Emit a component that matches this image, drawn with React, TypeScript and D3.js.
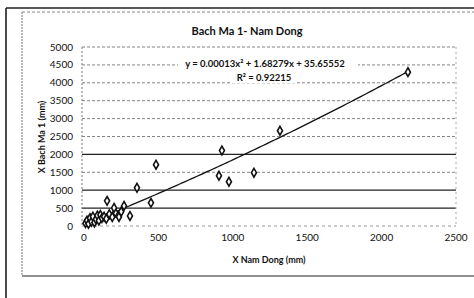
import React, { useRef, useEffect } from 'react';
import * as d3 from 'd3';

// Scatter data (mm)
const namDong = [
  10, 20, 30, 40, 50, 60, 70, 80, 90, 100, 110, 120, 135, 150, 170, 190, 210, 235, 250,
  155, 202, 269, 309, 356, 450, 484, 907, 927, 974, 1142, 1317, 2177,
];
const bachMa = [
  80, 150, 60, 220, 120, 260, 100, 190, 290, 150, 310, 220, 260, 200, 330, 250, 380, 253, 400,
  702, 506, 562, 281, 1067, 646, 1713, 1404, 2107, 1236, 1489, 2660, 4298,
];
const xTicks = [0, 500, 1000, 1500, 2000, 2500];
const yTicks = [0, 500, 1000, 1500, 2000, 2500, 3000, 3500, 4000, 4500, 5000];
const coef = [0.00013, 1.68279, 35.65552];

const W = 474;
const H = 298;
const FONT = 'Lato, "Open Sans", sans-serif';

const App: React.FC = () => {
  const svgRef = useRef<SVGSVGElement>(null);

  useEffect(() => {
    if (!svgRef.current) return;
    const svg = d3.select(svgRef.current);
    svg.selectAll('*').remove();

    const x = d3.scaleLinear().domain([0, 2500]).range([84, 456]);
    const y = d3.scaleLinear().domain([0, 5000]).range([226, 47]);

    svg.append('rect').attr('width', W).attr('height', H).attr('fill', '#fff');

    // outer frame (scanned page edge)
    svg.append('line').attr('x1', 6).attr('x2', 6).attr('y1', 8).attr('y2', H)
      .attr('stroke', '#111').attr('stroke-width', 1.5);
    svg.append('line').attr('x1', 6).attr('x2', W).attr('y1', 8).attr('y2', 8)
      .attr('stroke', '#222').attr('stroke-width', 1.5);

    // chart area border
    svg.append('line').attr('x1', 22).attr('x2', 22).attr('y1', 12).attr('y2', 276)
      .attr('stroke', '#777').attr('stroke-dasharray', '2,1');
    svg.append('line').attr('x1', 22).attr('x2', W).attr('y1', 12).attr('y2', 12)
      .attr('stroke', '#888').attr('stroke-dasharray', '3,2');
    svg.append('line').attr('x1', 22).attr('x2', W).attr('y1', 276).attr('y2', 276)
      .attr('stroke', '#222').attr('stroke-width', 1.2);

    // title
    svg.append('text')
      .attr('x', 247).attr('y', 35)
      .attr('text-anchor', 'middle')
      .attr('font-family', FONT).attr('font-size', 11).attr('font-weight', 'bold')
      .attr('fill', '#111')
      .text('Bach Ma 1- Nam Dong');

    // horizontal gridlines
    const solid = new Set([500, 1000, 2000]);
    svg.append('g')
      .selectAll('line')
      .data(yTicks.slice(1))
      .join('line')
      .attr('x1', 82).attr('x2', 456)
      .attr('y1', (d) => y(d)).attr('y2', (d) => y(d))
      .attr('stroke', (d) => (solid.has(d) ? '#222' : '#777'))
      .attr('stroke-width', (d) => (solid.has(d) ? 1.2 : 0.9))
      .attr('stroke-dasharray', (d) => (solid.has(d) ? null : '3,2'));

    // plot area sides
    svg.append('line').attr('x1', 82).attr('x2', 82).attr('y1', y(5000)).attr('y2', y(0))
      .attr('stroke', '#777').attr('stroke-dasharray', '2,2');
    svg.append('line').attr('x1', 456).attr('x2', 456).attr('y1', y(5000)).attr('y2', y(0))
      .attr('stroke', '#aaa').attr('stroke-dasharray', '2,3');
    svg.append('line').attr('x1', 82).attr('x2', 456).attr('y1', y(0)).attr('y2', y(0))
      .attr('stroke', '#999').attr('stroke-dasharray', '3,3');

    // y tick labels
    svg.append('g')
      .selectAll('text')
      .data(yTicks)
      .join('text')
      .attr('x', 73).attr('y', (d) => y(d))
      .attr('dy', '0.35em')
      .attr('text-anchor', 'end')
      .attr('font-family', FONT).attr('font-size', 10).attr('fill', '#111')
      .text((d) => d);

    // x tick labels
    svg.append('g')
      .selectAll('text')
      .data(xTicks)
      .join('text')
      .attr('x', (d) => x(d)).attr('y', 241)
      .attr('text-anchor', 'middle')
      .attr('font-family', FONT).attr('font-size', 10).attr('fill', '#111')
      .text((d) => d);

    // axis titles
    svg.append('text')
      .attr('x', 269).attr('y', 263)
      .attr('text-anchor', 'middle')
      .attr('font-family', FONT).attr('font-size', 9).attr('font-weight', 'bold')
      .attr('fill', '#111')
      .text('X Nam Dong (mm)');
    svg.append('text')
      .attr('transform', 'translate(45,137) rotate(-90)')
      .attr('text-anchor', 'middle')
      .attr('font-family', FONT).attr('font-size', 9).attr('font-weight', 'bold')
      .attr('fill', '#111')
      .text('X Bach Ma 1 (mm)');

    // polynomial trendline
    const xMax = d3.max(namDong) || 0;
    const fit = (v: number) => coef[0] * v * v + coef[1] * v + coef[2];
    const xs = d3.range(0, xMax + 1, 20).concat([xMax]);
    svg.append('path')
      .datum(xs)
      .attr('fill', 'none')
      .attr('stroke', '#111')
      .attr('stroke-width', 1.3)
      .attr('d', d3.line<number>().x((d) => x(d)).y((d) => y(fit(d))));

    // points
    const pts = namDong.map((v, i) => [v, bachMa[i]]);
    svg.append('g')
      .selectAll('path')
      .data(pts)
      .join('path')
      .attr('transform', (d) => `translate(${x(d[0])},${y(d[1])})`)
      .attr('d', d3.symbol().type(d3.symbolDiamond).size(22)())
      .attr('fill', '#fff')
      .attr('stroke', '#111')
      .attr('stroke-width', 1.6);

    // equation label
    const eq = svg.append('g').attr('font-family', FONT).attr('fill', '#111')
      .attr('font-size', 9.5).attr('font-weight', 'bold');
    eq.append('rect').attr('x', 178).attr('y', 57).attr('width', 180).attr('height', 12).attr('fill', '#fff');
    eq.append('rect').attr('x', 232).attr('y', 72).attr('width', 64).attr('height', 11).attr('fill', '#fff');
    eq.append('text').attr('x', 265).attr('y', 67).attr('text-anchor', 'middle')
      .text('y = 0.00013x² + 1.68279x + 35.65552');
    eq.append('text').attr('x', 264).attr('y', 81).attr('text-anchor', 'middle')
      .text('R² = 0.92215');
  }, []);

  return (
    <div style={{ position: 'absolute', left: 0, top: 0 }}>
      <svg ref={svgRef} width={W} height={H} />
    </div>
  );
};

export default App;
